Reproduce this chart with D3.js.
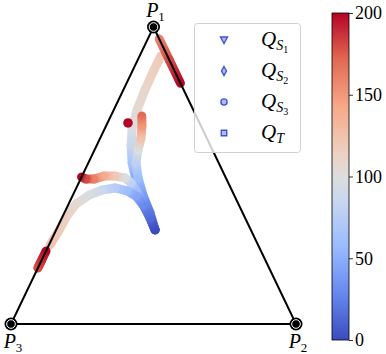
<!DOCTYPE html>
<html>
<head>
<meta charset="utf-8">
<script src="https://cdn.jsdelivr.net/npm/d3@7"></script>
<style>
  body { margin: 0; background: #fff; }
  text { font-family: "Liberation Serif", "DejaVu Serif", serif; }
</style>
</head>
<body>
<div id="chart"></div>
<script>
var width = 386;
var height = 354;

// colour bar
var cbTicks = [0, 50, 100, 150, 200];
var cbDomain = [0, 200];

// vertex names
var vertexNames = ["1", "2", "3"];

// legend entries
var seriesNames = [["S", "1"], ["S", "2"], ["S", "3"], ["T", ""]];

// trajectories: runs of [t, p1, p2, p3] (ternary fractions)
var trajS1 = [
    [[0, .317, .347, .336], [15, .370, .299, .331], [30, .428, .246, .326], [45, .485, .196, .319],
     [65, .542, .154, .304], [85, .603, .120, .277], [98, .660, .095, .245], [105, .721, .082, .197],
     [110, .788, .076, .136], [115, .855, .074, .071], [120, .902, .075, .023]],
    [[160, .960, .040, .000], [180, .889, .111, .000], [200, .811, .189, .000]]
];
var trajS2 = [
    [[0, .317, .347, .336], [20, .374, .301, .326], [40, .434, .246, .320], [60, .492, .200, .309],
     [80, .545, .166, .289], [100, .586, .153, .261], [125, .626, .143, .231], [150, .667, .126, .207],
     [170, .700, .109, .190]],
    [[200, .677, .072, .251]]
];
var trajS3 = [
    [[0, .317, .347, .336], [20, .374, .294, .332], [40, .421, .246, .333], [60, .451, .213, .336],
     [80, .475, .184, .342], [100, .492, .154, .354], [120, .498, .116, .386], [140, .498, .077, .425],
     [160, .488, .047, .465], [180, .488, .019, .493], [200, .495, .000, .505]]
];
var trajT = [
    [[0, .317, .347, .336], [15, .357, .309, .334], [30, .401, .263, .336], [45, .431, .223, .346],
     [60, .448, .183, .369], [75, .458, .136, .406], [88, .451, .094, .455], [98, .434, .057, .509],
     [106, .404, .026, .570], [112, .370, .015, .615], [118, .310, .010, .680], [124, .266, .004, .730]],
    [[165, .219, .000, .781], [180, .189, .000, .811], [200, .246, .000, .754]]
];
var trajectories = [trajS1, trajS2, trajS3, trajT];

// coolwarm
var coolwarmStops = [0, .143, .286, .429, .5, .571, .714, .857, 1];
var coolwarmColors = ["#3b4cc0", "#6788ee", "#9abbff", "#c9d7f0", "#dddddd", "#edd1c2", "#f7a889", "#e26952", "#b40426"];
var coolwarm = d3.scaleLinear().domain(coolwarmStops).range(coolwarmColors).interpolate(d3.interpolateRgb);
var color = function (t) { return coolwarm((t - cbDomain[0]) / (cbDomain[1] - cbDomain[0])); };

var x = d3.scaleLinear().domain([0, 1]).range([11, 296]);
var y = d3.scaleLinear().domain([0, 1]).range([324, 27]);

function project(p1, p2) {
    return [x(p2 + p1 / 2), y(p1)];
}

var svg = d3.select('#chart').append('svg')
    .attr('width', width)
    .attr('height', height);
var defs = svg.append('defs');

// trajectories
var gradIdx = 0;
trajectories.forEach(function (runs) {
    var g = svg.append('g');
    runs.forEach(function (run) {
        if (run.length === 1) {
            var p = project(run[0][1], run[0][2]);
            g.append('circle').attr('cx', p[0]).attr('cy', p[1]).attr('r', 4.8)
                .attr('fill', color(run[0][0]));
            return;
        }
        for (var i = 0; i < run.length - 1; i++) {
            var a = project(run[i][1], run[i][2]);
            var b = project(run[i + 1][1], run[i + 1][2]);
            var id = 'seg' + (gradIdx++);
            var lg = defs.append('linearGradient').attr('id', id)
                .attr('gradientUnits', 'userSpaceOnUse')
                .attr('x1', a[0]).attr('y1', a[1]).attr('x2', b[0]).attr('y2', b[1]);
            lg.append('stop').attr('offset', 0).attr('stop-color', color(run[i][0]));
            lg.append('stop').attr('offset', 1).attr('stop-color', color(run[i + 1][0]));
            g.append('line')
                .attr('x1', a[0]).attr('y1', a[1]).attr('x2', b[0]).attr('y2', b[1])
                .attr('stroke', 'url(#' + id + ')')
                .attr('stroke-width', 9)
                .attr('stroke-linecap', 'round');
        }
    });
});

// triangle
var verts = [[1, 0], [0, 1], [0, 0]].map(function (v) { return project(v[0], v[1]); });
svg.append('path')
    .attr('d', 'M' + verts.map(function (v) { return v.join(','); }).join('L') + 'Z')
    .attr('fill', 'none')
    .attr('stroke', '#000')
    .attr('stroke-width', 2);

verts.forEach(function (v, i) {
    svg.append('circle').attr('cx', v[0]).attr('cy', v[1]).attr('r', 6.5).attr('fill', '#000');
    svg.append('circle').attr('cx', v[0]).attr('cy', v[1]).attr('r', 4.3)
        .attr('fill', '#000').attr('stroke', '#fff').attr('stroke-width', 1);
    var ty = i === 0 ? v[1] - 10 : v[1] + 24;
    var t = svg.append('text').attr('x', v[0] + 2).attr('y', ty)
        .attr('text-anchor', 'middle').attr('font-size', 20);
    t.append('tspan').attr('font-style', 'italic').text('P');
    t.append('tspan').attr('font-size', 13).attr('dy', 4).text(vertexNames[i]);
});

// legend
var legend = svg.append('g');
legend.append('rect')
    .attr('x', 194.5).attr('y', 23.5).attr('width', 106).attr('height', 129).attr('rx', 3)
    .attr('fill', '#fff').attr('fill-opacity', 0.8)
    .attr('stroke', '#d0d0d0').attr('stroke-width', 1);

var markerPaths = [
    'M-3.5,-3L3.5,-3L0,3.5Z',
    'M0,-4.5L2.5,0L0,4.5L-2.5,0Z',
    d3.symbol(d3.symbolCircle, 30)(),
    d3.symbol(d3.symbolSquare, 30)()
];
seriesNames.forEach(function (s, i) {
    var cy = 40 + 31 * i;
    legend.append('path').attr('d', markerPaths[i])
        .attr('transform', 'translate(224,' + cy + ')')
        .attr('fill', '#aebcf0').attr('stroke', '#3f55d0').attr('stroke-width', 1.4);
    var t = legend.append('text').attr('x', 261).attr('y', cy + 6).attr('font-size', 21);
    t.append('tspan').attr('font-style', 'italic').text('Q');
    t.append('tspan').attr('font-style', 'italic').attr('font-size', 14).attr('dy', 4).text(s[0]);
    if (s[1]) t.append('tspan').attr('font-size', 10).attr('dy', 3).text(s[1]);
});

// colour bar
var cbX = 332, cbW = 17, cbTop = 13, cbBottom = 340;
var cbScale = d3.scaleLinear().domain(cbDomain).range([cbBottom, cbTop]);
var cbGrad = defs.append('linearGradient').attr('id', 'cbgrad')
    .attr('x1', 0).attr('y1', 1).attr('x2', 0).attr('y2', 0);
coolwarmStops.forEach(function (s, i) {
    cbGrad.append('stop').attr('offset', s).attr('stop-color', coolwarmColors[i]);
});
svg.append('rect')
    .attr('x', cbX).attr('y', cbTop).attr('width', cbW).attr('height', cbBottom - cbTop)
    .attr('fill', 'url(#cbgrad)')
    .attr('stroke', '#000').attr('stroke-width', 0.8);

var cbAxis = svg.append('g')
    .attr('transform', 'translate(' + (cbX + cbW) + ',0)')
    .call(d3.axisRight(cbScale).tickValues(cbTicks).tickSize(4).tickPadding(2).tickFormat(d3.format('d')));
cbAxis.select('.domain').remove();
cbAxis.selectAll('.tick line').attr('stroke', '#000').attr('stroke-width', 0.8);
cbAxis.selectAll('.tick text')
    .attr('font-family', '"Liberation Serif", serif')
    .attr('font-size', 18)
    .attr('fill', '#000');
</script>
</body>
</html>
